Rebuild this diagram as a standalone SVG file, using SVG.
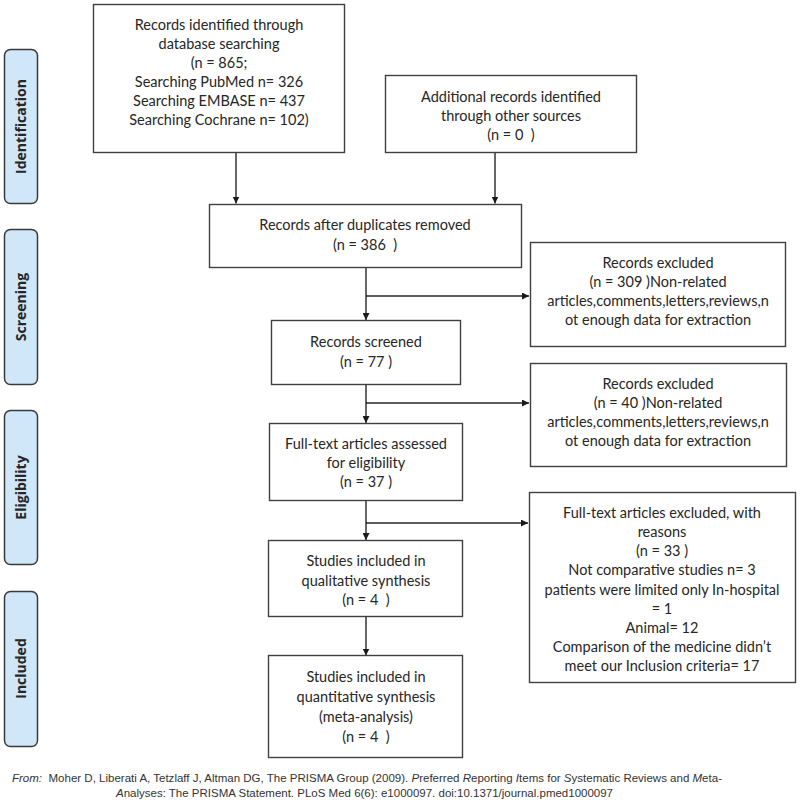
<svg xmlns="http://www.w3.org/2000/svg" width="800" height="806" viewBox="0 0 800 806">
<style>
  .box { fill: #ffffff; stroke: #404040; stroke-width: 1.4; }
  .side { fill: #cfe7f8; stroke: #3a3a3a; stroke-width: 1.5; }
  .t { font-family: Lato, "Open Sans", "Liberation Sans", sans-serif; font-size: 14.5px; fill: #262626; text-anchor: middle; white-space: pre; }
  .st { font-family: "Open Sans", Lato, "Liberation Sans", sans-serif; font-size: 14px; font-weight: bold; fill: #262626; text-anchor: middle; }
  .ln { fill: none; stroke: #262626; stroke-width: 1.4; }
  .ft { font-family: "Liberation Sans", Arial, sans-serif; font-size: 11px; fill: #333333; white-space: pre; }
  .it { font-style: italic; }
</style>
<defs>
  <marker id="ah" viewBox="0 0 10 10" refX="10" refY="5" markerWidth="7" markerHeight="7" markerUnits="userSpaceOnUse" orient="auto">
    <path d="M0,0 L10,5 L0,10 z" fill="#1a1a1a"/>
  </marker>
</defs>
<rect width="800" height="806" fill="#ffffff"/>

<g id="side-identification">
  <rect class="side" x="4.5" y="49.5" width="33" height="154" rx="6"/>
  <text class="st" transform="translate(26,126.5) rotate(-90)">Identification</text>
</g>
<g id="side-screening">
  <rect class="side" x="4.5" y="229.5" width="33" height="155" rx="6"/>
  <text class="st" transform="translate(26,307) rotate(-90)">Screening</text>
</g>
<g id="side-eligibility">
  <rect class="side" x="4.5" y="410.5" width="33" height="154" rx="6"/>
  <text class="st" transform="translate(26,487.5) rotate(-90)">Eligibility</text>
</g>
<g id="side-included">
  <rect class="side" x="4.5" y="591.5" width="33" height="155" rx="6"/>
  <text class="st" transform="translate(26,668.5) rotate(-90)">Included</text>
</g>

<g id="connectors">
  <line class="ln" x1="236" y1="153" x2="236" y2="203.5" marker-end="url(#ah)"/>
  <line class="ln" x1="495" y1="153" x2="495" y2="203.5" marker-end="url(#ah)"/>
  <line class="ln" x1="366" y1="268" x2="366" y2="320" marker-end="url(#ah)"/>
  <line class="ln" x1="366" y1="296" x2="529" y2="296" marker-end="url(#ah)"/>
  <line class="ln" x1="366" y1="385" x2="366" y2="423" marker-end="url(#ah)"/>
  <line class="ln" x1="366" y1="403" x2="529" y2="403" marker-end="url(#ah)"/>
  <line class="ln" x1="366" y1="501" x2="366" y2="540" marker-end="url(#ah)"/>
  <line class="ln" x1="366" y1="523" x2="528" y2="523" marker-end="url(#ah)"/>
  <line class="ln" x1="366" y1="617" x2="366" y2="655.5" marker-end="url(#ah)"/>
</g>

<g id="records-identified">
  <rect class="box" x="93.5" y="4.5" width="251" height="148"/>
  <text class="t" x="219" y="30">Records identified through</text>
  <text class="t" x="219" y="49">database searching</text>
  <text class="t" x="219" y="68">(n = 865;</text>
  <text class="t" x="219" y="87">Searching PubMed n= 326</text>
  <text class="t" x="219" y="106">Searching EMBASE n= 437</text>
  <text class="t" x="219" y="125">Searching Cochrane n= 102)</text>
</g>

<g id="additional-records">
  <rect class="box" x="385.5" y="75.5" width="251" height="77"/>
  <text class="t" x="511" y="102">Additional records identified</text>
  <text class="t" x="511" y="121">through other sources</text>
  <text class="t" x="511" y="140">(n = 0  )</text>
</g>

<g id="after-duplicates">
  <rect class="box" x="209.5" y="204.5" width="312" height="63"/>
  <text class="t" x="365" y="230">Records after duplicates removed</text>
  <text class="t" x="365" y="250">(n = 386  )</text>
</g>

<g id="excluded-1">
  <rect class="box" x="530.5" y="242.5" width="255" height="104"/>
  <text class="t" x="658" y="268">Records excluded</text>
  <text class="t" x="658" y="287">(n = 309 )Non-related</text>
  <text class="t" x="658" y="306">articles,comments,letters,reviews,n</text>
  <text class="t" x="658" y="325">ot enough data for extraction</text>
</g>

<g id="records-screened">
  <rect class="box" x="271.5" y="320.5" width="189" height="64"/>
  <text class="t" x="366" y="347">Records screened</text>
  <text class="t" x="366" y="367">(n = 77 )</text>
</g>

<g id="excluded-2">
  <rect class="box" x="530.5" y="363.5" width="256" height="103"/>
  <text class="t" x="658" y="389">Records excluded</text>
  <text class="t" x="658" y="408">(n = 40 )Non-related</text>
  <text class="t" x="658" y="427">articles,comments,letters,reviews,n</text>
  <text class="t" x="658" y="446">ot enough data for extraction</text>
</g>

<g id="full-text-assessed">
  <rect class="box" x="269.5" y="423.5" width="193" height="77"/>
  <text class="t" x="366" y="449">Full-text articles assessed</text>
  <text class="t" x="366" y="468">for eligibility</text>
  <text class="t" x="366" y="487">(n = 37 )</text>
</g>

<g id="full-text-excluded">
  <rect class="box" x="529.5" y="492.5" width="266" height="190"/>
  <text class="t" x="662" y="518">Full-text articles excluded, with</text>
  <text class="t" x="662" y="537">reasons</text>
  <text class="t" x="662" y="556">(n = 33 )</text>
  <text class="t" x="662" y="575">Not comparative studies n= 3</text>
  <text class="t" x="662" y="595">patients were limited only In-hospital</text>
  <text class="t" x="662" y="614">= 1</text>
  <text class="t" x="662" y="633">Animal= 12</text>
  <text class="t" x="662" y="652">Comparison of the medicine didn’t</text>
  <text class="t" x="662" y="671">meet our Inclusion criteria= 17</text>
</g>

<g id="qualitative">
  <rect class="box" x="268.5" y="540.5" width="194" height="76"/>
  <text class="t" x="366" y="566">Studies included in</text>
  <text class="t" x="366" y="586">qualitative synthesis</text>
  <text class="t" x="366" y="605">(n = 4  )</text>
</g>

<g id="quantitative">
  <rect class="box" x="268.5" y="655.5" width="194" height="102"/>
  <text class="t" x="366" y="682">Studies included in</text>
  <text class="t" x="366" y="702">quantitative synthesis</text>
  <text class="t" x="366" y="722">(meta-analysis)</text>
  <text class="t" x="366" y="742">(n = 4  )</text>
</g>

<g id="footer">
  <text class="ft" x="12" y="782" textLength="710" lengthAdjust="spacingAndGlyphs"><tspan class="it">From:</tspan>  Moher D, Liberati A, Tetzlaff J, Altman DG, The PRISMA Group (2009). <tspan class="it">P</tspan>referred <tspan class="it">R</tspan>eporting <tspan class="it">I</tspan>tems for <tspan class="it">S</tspan>ystematic Reviews and <tspan class="it">M</tspan>eta-</text>
  <text class="ft" x="116" y="797" textLength="497" lengthAdjust="spacingAndGlyphs"><tspan class="it">A</tspan>nalyses: The PRISMA Statement. PLoS Med 6(6): e1000097. doi:10.1371/journal.pmed1000097</text>
</g>
</svg>
